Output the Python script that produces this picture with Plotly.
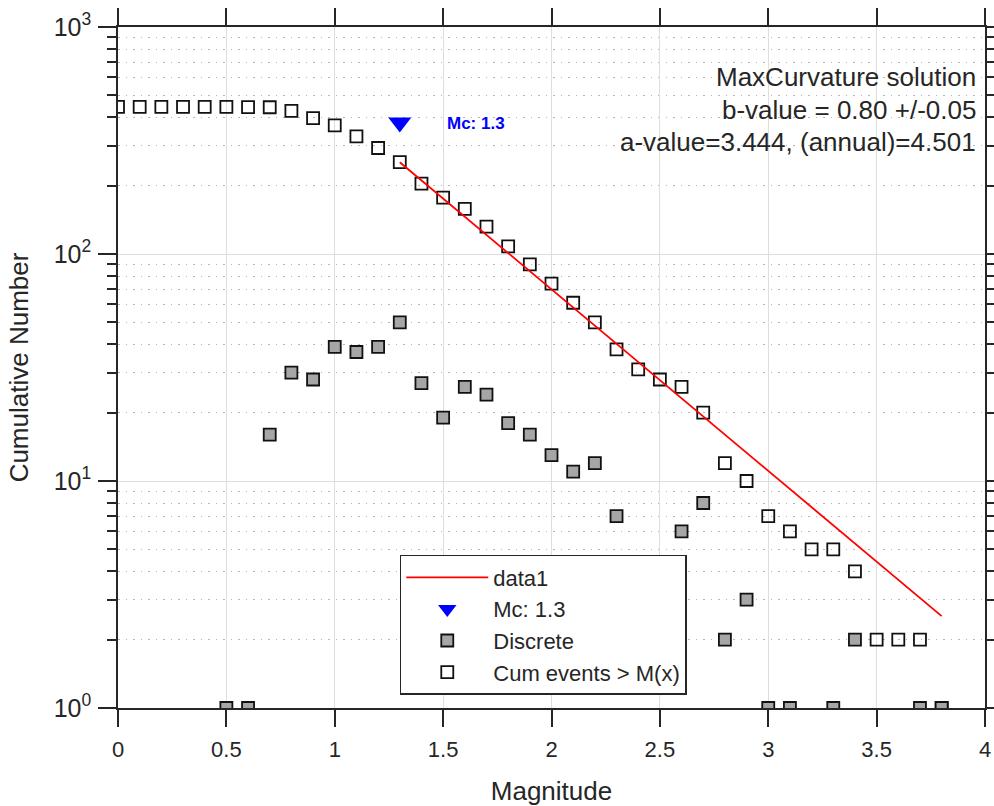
import plotly.graph_objects as go

# ---- data ----
mag = [0.0, 0.1, 0.2, 0.3, 0.4, 0.5, 0.6, 0.7, 0.8, 0.9, 1.0, 1.1, 1.2, 1.3, 1.4,
       1.5, 1.6, 1.7, 1.8, 1.9, 2.0, 2.1, 2.2, 2.3, 2.4, 2.5, 2.6, 2.7, 2.8, 2.9,
       3.0, 3.1, 3.2, 3.3, 3.4, 3.5, 3.6, 3.7, 3.8]
cum_events = [445, 445, 445, 445, 445, 445, 444, 443, 427, 397, 369, 330, 293, 254, 204,
              177, 158, 132, 108, 90, 74, 61, 50, 38, 31, 28, 26, 20, 12, 10,
              7, 6, 5, 5, 4, 2, 2, 2, 1]
disc_mag = [0.5, 0.6, 0.7, 0.8, 0.9, 1.0, 1.1, 1.2, 1.3, 1.4, 1.5, 1.6, 1.7, 1.8, 1.9,
            2.0, 2.1, 2.2, 2.3, 2.4, 2.5, 2.6, 2.7, 2.8, 2.9, 3.0, 3.1, 3.3, 3.4, 3.7, 3.8]
discrete = [1, 1, 16, 30, 28, 39, 37, 39, 50, 27, 19, 26, 24, 18, 16,
            13, 11, 12, 7, 3, 2, 6, 8, 2, 3, 1, 1, 1, 2, 1, 1]
fit_mag = [1.3, 3.8]
fit_n = [253.5, 2.54]
mc_mag = [1.3]
mc_n = [380]
info_lines = ["MaxCurvature solution", "b-value = 0.80 +/-0.05",
              "a-value=3.444, (annual)=4.501"]
x_ticks = [0, 0.5, 1, 1.5, 2, 2.5, 3, 3.5, 4]
x_ticktext = ["0", "0.5", "1", "1.5", "2", "2.5", "3", "3.5", "4"]
y_ticks = [1, 10, 100, 1000]
y_ticktext = ["10<sup>0</sup>", "10<sup>1</sup>", "10<sup>2</sup>", "10<sup>3</sup>"]
y_minor = [m * 10 ** e for e in range(3) for m in range(2, 10)]

FONT = "Liberation Sans, Arial, Helvetica, sans-serif"
AX = "#262626"

fig = go.Figure()

fig.add_trace(go.Scatter(
    x=mag, y=cum_events, mode="markers", name="Cum events > M(x)",
    legendrank=4,
    marker=dict(symbol="square", size=12, color="rgba(255,255,255,0)",
                line=dict(color="#111111", width=1.8))))
fig.add_trace(go.Scatter(
    x=disc_mag, y=discrete, mode="markers", name="Discrete", legendrank=3,
    marker=dict(symbol="square", size=12, color="#a6a6a6",
                line=dict(color="#111111", width=1.8))))
fig.add_trace(go.Scatter(
    x=fit_mag, y=fit_n, mode="lines", name="data1", legendrank=1,
    line=dict(color="#ff0000", width=1.8)))
fig.add_trace(go.Scatter(
    x=mc_mag, y=mc_n, mode="markers", name="Mc: 1.3", legendrank=2,
    marker=dict(symbol="triangle-down", size=20, color="#0000ff",
                line=dict(color="#0000ff", width=0))))

for i, t in enumerate(info_lines):
    fig.add_annotation(xref="paper", yref="paper", x=0.992, y=[0.9266, 0.878, 0.831][i],
                       text=t, showarrow=False, xanchor="right", yanchor="middle",
                       font=dict(family=FONT, size=26, color=AX))

fig.add_annotation(x=1.51, y=2.573, text="<b>Mc: 1.3</b>", showarrow=False,
                   xanchor="left", yanchor="middle",
                   font=dict(family=FONT, size=17, color="#0000ff"))

fig.update_layout(
    width=994, height=806,
    margin=dict(l=118, r=9, t=27, b=98),
    paper_bgcolor="white", plot_bgcolor="white",
    font=dict(family=FONT, size=22, color=AX),
    showlegend=True,
    legend=dict(x=0.325, y=0.2247, xanchor="left", yanchor="top",
                bgcolor="white", bordercolor=AX, borderwidth=1.5,
                itemwidth=82,
                font=dict(family=FONT, size=22, color=AX)),
    xaxis=dict(range=[0, 4], tickmode="array", tickvals=x_ticks, ticktext=x_ticktext,
               automargin=False,
               showline=True, linecolor=AX, linewidth=1.5, mirror="allticks",
               ticks="outside", ticklen=17, tickwidth=1.5, tickcolor=AX,
               showgrid=True, gridcolor="#dedede", gridwidth=1, zeroline=False,
               title=dict(text="Magnitude", font=dict(size=26, color=AX), standoff=22),
               tickfont=dict(size=22, color=AX), ticklabelstandoff=4),
    yaxis=dict(type="log", range=[0, 3], tickmode="array", tickvals=y_ticks,
               ticktext=y_ticktext, automargin=False,
               showline=True, linecolor=AX, linewidth=1.5, mirror="allticks",
               ticks="outside", ticklen=18, tickwidth=1.5, tickcolor=AX,
               showgrid=True, gridcolor="#dedede", gridwidth=1, zeroline=False,
               minor=dict(tickmode="array", tickvals=y_minor, ticks="outside",
                          ticklen=9, tickwidth=1.5, tickcolor=AX,
                          showgrid=True, gridcolor="#b5b5b5", griddash="1.5px,6px",
                          gridwidth=1),
               title=dict(text="Cumulative Number", font=dict(size=26, color=AX), standoff=18),
               tickfont=dict(size=25, color=AX), ticklabelstandoff=2),
)

fig.write_html("out.html")
